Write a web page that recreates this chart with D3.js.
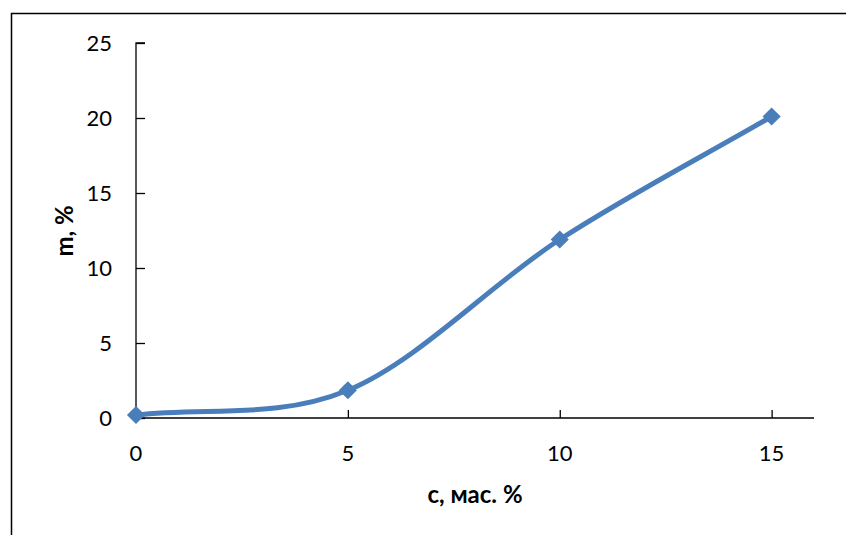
<!DOCTYPE html>
<html>
<head>
<meta charset="utf-8">
<script src="https://cdn.jsdelivr.net/npm/d3@7"></script>
<style>
  html, body { margin: 0; padding: 0; background: #fff; }
  svg { display: block; }
  text { font-family: Lato, "Open Sans", sans-serif; fill: #000; }
</style>
</head>
<body>
<svg id="chart" width="846" height="535"></svg>
<script>
// Concentration c (mass %) and mass gain m (%)
const concentrations = [0, 5, 10, 15];
const massGain = [0.2, 1.85, 11.9, 20.1];
const xTicks = [0, 5, 10, 15];
const yTicks = [0, 5, 10, 15, 20, 25];
const xTitle = "с, мас. %";
const yTitle = "m, %";

const svg = d3.select("#chart");
const W = 846, H = 535;
const lineColor = "#4a7ebb";

// Cardinal-type smoothing with reflected end points (spreadsheet style)
function curveSmoothReflect(context) {
  let pts = [];
  return {
    areaStart() {}, areaEnd() {},
    lineStart() { pts = []; },
    point(x, y) { pts.push([+x, +y]); },
    lineEnd() {
      const n = pts.length;
      if (!n) return;
      context.moveTo(pts[0][0], pts[0][1]);
      if (n === 1) return;
      const get = i => {
        if (i < 0) return [2 * pts[0][0] - pts[1][0], 2 * pts[0][1] - pts[1][1]];
        if (i >= n) return [2 * pts[n - 1][0] - pts[n - 2][0], 2 * pts[n - 1][1] - pts[n - 2][1]];
        return pts[i];
      };
      for (let i = 0; i < n - 1; i++) {
        const p0 = get(i - 1), p1 = get(i), p2 = get(i + 1), p3 = get(i + 2);
        context.bezierCurveTo(
          p1[0] + (p2[0] - p0[0]) / 6, p1[1] + (p2[1] - p0[1]) / 6,
          p2[0] - (p3[0] - p1[0]) / 6, p2[1] - (p3[1] - p1[1]) / 6,
          p2[0], p2[1]);
      }
    }
  };
}

// outer chart frame
svg.append("rect")
  .attr("x", 11.5).attr("y", 13.5)
  .attr("width", W).attr("height", H)
  .attr("fill", "none").attr("stroke", "#000").attr("stroke-width", 1.5);

const x = d3.scaleLinear().domain([0, 16]).range([136, 814]);
const y = d3.scaleLinear().domain([0, 25]).range([418, 43]);

// y axis with inward ticks
const yAxis = svg.append("g").attr("transform", "translate(136,0)")
  .call(d3.axisRight(y).tickValues(yTicks).tickSize(9).tickFormat(""));
yAxis.select(".domain").attr("d", `M9,${y(25)}H0V${y(0)}`);
yAxis.selectAll("line, path").attr("stroke", "#000").attr("stroke-width", 1.3);

// y tick labels
svg.append("g").selectAll("text").data(yTicks).join("text")
  .attr("x", 112).attr("y", d => y(d))
  .attr("dy", "0.35em").attr("text-anchor", "end")
  .attr("font-size", 22).text(d => d);

// x axis with inward ticks
const xAxis = svg.append("g").attr("transform", `translate(0,${y(0)})`)
  .call(d3.axisTop(x).tickValues(xTicks).tickSize(8).tickFormat(""));
xAxis.select(".domain").attr("d", `M${x(0)},0H${x(16)}`);
xAxis.selectAll("line, path").attr("stroke", "#000").attr("stroke-width", 1.3);

// x tick labels
svg.append("g").selectAll("text").data(xTicks).join("text")
  .attr("x", d => x(d)).attr("y", 453)
  .attr("dy", "0.35em").attr("text-anchor", "middle")
  .attr("font-size", 22).text(d => d);

// axis titles
svg.append("text")
  .attr("x", 475).attr("y", 495).attr("dy", "0.35em")
  .attr("text-anchor", "middle").attr("font-weight", "bold")
  .attr("font-size", 24).text(xTitle);

svg.append("text")
  .attr("transform", "translate(65,231) rotate(-90)")
  .attr("dy", "0.35em").attr("text-anchor", "middle")
  .attr("font-weight", "bold").attr("font-size", 24).text(yTitle);

// smoothed data line
const pts = concentrations.map((c, i) => [c, massGain[i]]);
const line = d3.line()
  .x(d => x(d[0])).y(d => y(d[1]))
  .curve(curveSmoothReflect);

svg.append("path").datum(pts)
  .attr("d", line)
  .attr("fill", "none").attr("stroke", lineColor)
  .attr("stroke-width", 5).attr("stroke-linecap", "round");

// diamond markers
const diamond = d3.symbol().type(d3.symbolSquare).size(165);
svg.append("g").selectAll("path").data(pts).join("path")
  .attr("d", diamond)
  .attr("transform", d => `translate(${x(d[0])},${y(d[1])}) rotate(45)`)
  .attr("fill", lineColor);
</script>
</body>
</html>
